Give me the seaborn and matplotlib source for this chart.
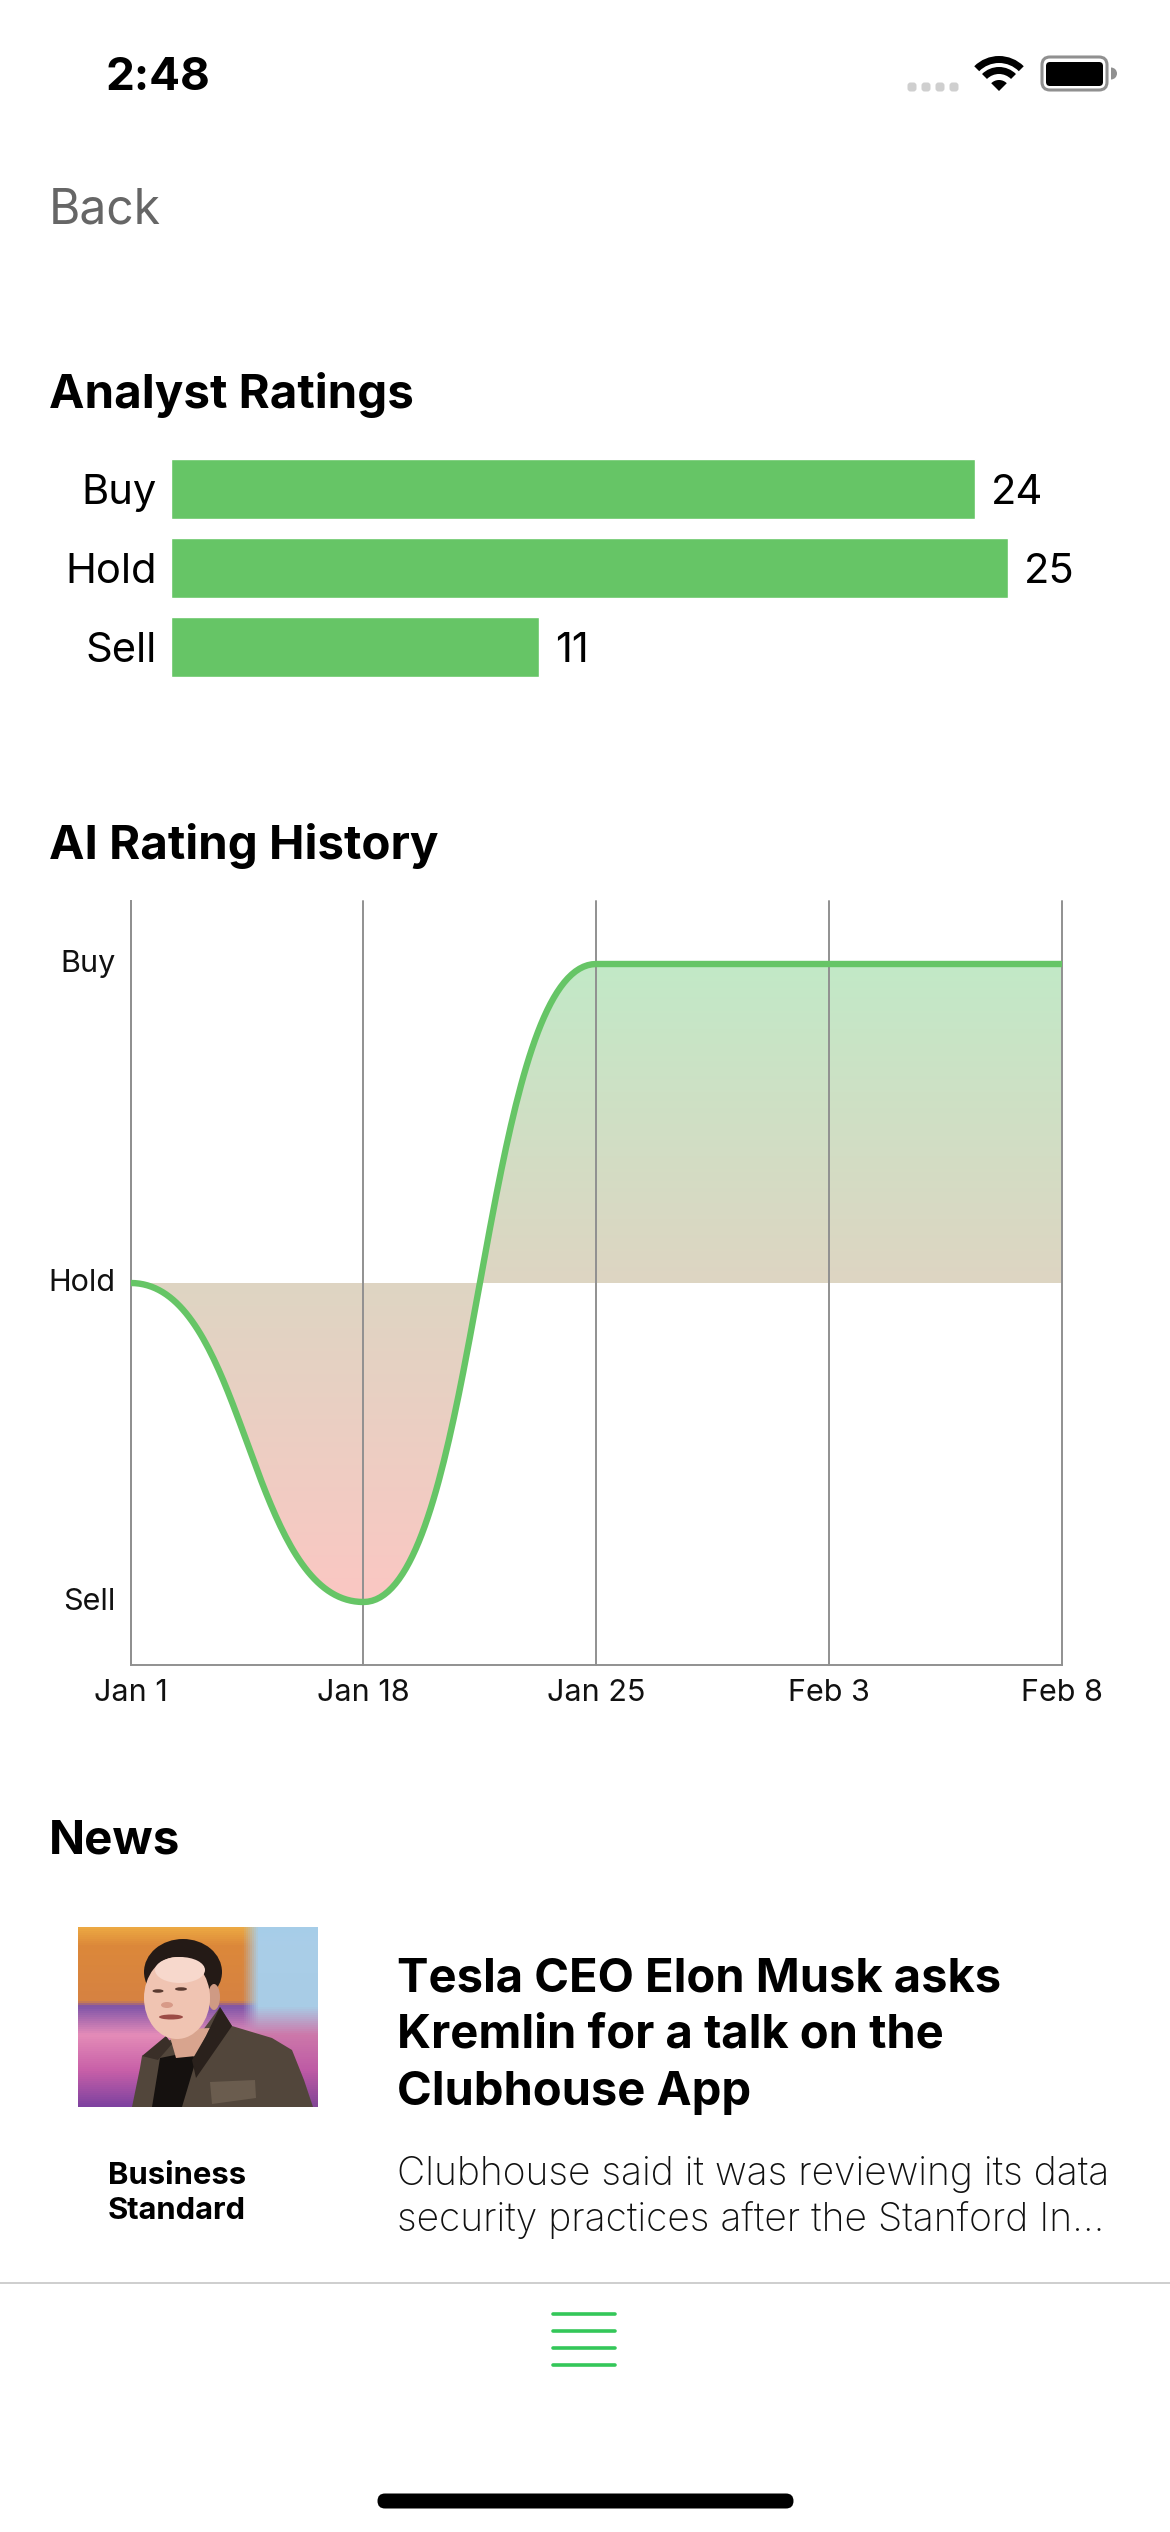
import matplotlib

matplotlib.use("Agg")

import matplotlib.pyplot as plt
import numpy as np
import seaborn as sns
from matplotlib.patches import Ellipse, FancyBboxPatch, Polygon, Wedge
from matplotlib.transforms import ScaledTranslation

W, H = 1170, 2532

RATING_LABELS = ["Buy", "Hold", "Sell"]
RATING_COUNTS = [24, 25, 11]

HISTORY_DATES = ["Jan 1", "Jan 18", "Jan 25", "Feb 3", "Feb 8"]
HISTORY_SCORES = [0, -1, 1, 1, 1]
SCORE_TICKS = [1, 0, -1]

HEADLINE = ["Tesla CEO Elon Musk asks", "Kremlin for a talk on the", "Clubhouse App"]
SUMMARY = ["Clubhouse said it was reviewing its data", "security practices after the Stanford In..."]
SOURCE = ["Business", "Standard"]

GREEN = "#66c566"
AXIS_GREY = "#909090"
FONT = "Inter"


def px_axes(fig, left, top, right, bottom):
    return fig.add_axes([left / W, 1 - bottom / H, (right - left) / W, (bottom - top) / H])


def smooth_curve(xs, ys, n=80):
    # same curve the app draws: bezier with flat tangents at each point
    cx, cy = [], []
    for x0, x1, y0, y1 in zip(xs[:-1], xs[1:], ys[:-1], ys[1:]):
        t = np.linspace(0, 1, n)
        mid = (x0 + x1) / 2
        cx.append((1 - t) ** 3 * x0 + 3 * (1 - t) ** 2 * t * mid + 3 * (1 - t) * t**2 * mid + t**3 * x1)
        cy.append((1 - t) ** 3 * y0 + 3 * (1 - t) ** 2 * t * y0 + 3 * (1 - t) * t**2 * y1 + t**3 * y1)
    return np.concatenate(cx), np.concatenate(cy)


def draw_ratings(fig):
    ax = px_axes(fig, 171, 449.5, 1008, 686.5)
    sns.barplot(x=RATING_COUNTS, y=RATING_LABELS, ax=ax, color=GREEN, saturation=1, width=0.747, orient="h")
    ax.set_xlim(0, 25)
    ax.set_ylim(2.5, -0.5)
    ax.set_xlabel("")
    ax.set_xticks([])
    ax.tick_params(axis="y", length=0, pad=10.5, labelsize=30, labelcolor="black")
    for lab in ax.bar_label(ax.containers[0], fontsize=30, padding=11.5, color="black"):
        lab.set_verticalalignment("center_baseline")
    sns.despine(ax=ax, left=True, bottom=True)
    ax.patch.set_alpha(0)


def draw_history(fig):
    ax = px_axes(fig, 130.6, 901, 1062, 1665)
    xs = list(range(len(HISTORY_SCORES)))
    cx, cy = smooth_curve(xs, HISTORY_SCORES)

    stops = np.array([[194, 233, 199], [222, 213, 194], [251, 199, 195]]) / 255
    pos = np.linspace(0, 1, 256)
    grad = np.stack([np.interp(pos, [0, 0.5, 1], stops[:, i]) for i in range(3)], axis=1)[:, None, :]
    img = ax.imshow(grad, extent=(0, 4, -1, 1), aspect="auto", origin="upper", zorder=1)
    # close the area back along the Hold level
    outline = np.column_stack([np.r_[cx, xs[-1], xs[0]], np.r_[cy, 0, 0]])
    img.set_clip_path(Polygon(outline, closed=True, transform=ax.transData))

    for x in xs:
        ax.axvline(x, color=AXIS_GREY, lw=1.4, zorder=2, clip_on=False)
    sns.lineplot(x=cx, y=cy, ax=ax, sort=False, estimator=None, color=GREEN, zorder=3)
    ax.lines[-1].set_linewidth(4.6)
    ax.lines[-1].set_solid_capstyle("butt")

    ax.set_xlim(0, 4)
    ax.set_ylim(-1.1975, 1.1975)
    ax.set_xticks(xs, HISTORY_DATES)
    ax.set_yticks(SCORE_TICKS, RATING_LABELS)
    ax.tick_params(length=0, labelsize=22, labelcolor="#111111")
    ax.tick_params(axis="x", pad=10)
    ax.tick_params(axis="y", pad=11)
    nudge = ScaledTranslation(0, 3 / 100, fig.dpi_scale_trans)
    for lab in ax.get_yticklabels():
        lab.set_transform(lab.get_transform() + nudge)
    sns.despine(ax=ax)
    for side in ["left", "bottom"]:
        ax.spines[side].set_color(AXIS_GREY)
        ax.spines[side].set_linewidth(1.4)
    ax.grid(False)
    ax.patch.set_alpha(0)


def draw_photo(fig):
    # rough stand-in for the news thumbnail, no image file available here
    ax = px_axes(fig, 78, 1927, 318, 2107)
    ax.set_xlim(78, 318)
    ax.set_ylim(2107, 1927)
    ax.axis("off")
    rows = np.array([[236, 168, 66], [220, 136, 58], [214, 130, 66], [128, 84, 168], [228, 140, 184], [200, 96, 168], [126, 66, 160]]) / 255
    blue = np.array([[166, 205, 232], [170, 206, 232], [168, 204, 230], [168, 204, 230], [205, 120, 170], [190, 90, 165], [130, 70, 150]]) / 255
    ys = np.array([0, 0.1, 0.41, 0.44, 0.6, 0.8, 1.0])
    pos = np.linspace(0, 1, 90)
    left = np.stack([np.interp(pos, ys, rows[:, i]) for i in range(3)], axis=1)
    right = np.stack([np.interp(pos, ys, blue[:, i]) for i in range(3)], axis=1)
    frac = np.clip((np.linspace(78, 318, 120) - 243) / 16, 0, 1)[None, :, None]
    ax.imshow(left[:, None, :] * (1 - frac) + right[:, None, :] * frac, extent=(78, 318, 2107, 1927), aspect="auto", origin="upper")
    # jacket, shirt, neck
    ax.add_patch(Polygon([[132, 2107], [140, 2068], [142, 2056], [170, 2040], [200, 2034], [220, 2007], [232, 2026], [272, 2038], [292, 2050], [304, 2080], [313, 2107]], color="#52463b", lw=0))
    ax.add_patch(Polygon([[152, 2107], [160, 2058], [190, 2052], [196, 2060], [182, 2107]], color="#15110f", lw=0))
    ax.add_patch(Polygon([[168, 2030], [210, 2028], [196, 2056], [176, 2058]], color="#d8a48e", lw=0))
    ax.add_patch(Polygon([[192, 2060], [206, 2036], [220, 2007], [232, 2026], [214, 2052], [196, 2078]], color="#2a211c", lw=0))
    ax.add_patch(Polygon([[142, 2056], [166, 2036], [172, 2044], [158, 2060]], color="#3a2f28", lw=0))
    ax.add_patch(Polygon([[210, 2082], [255, 2080], [256, 2098], [212, 2104]], color="#6a5c4e", lw=0))
    # hair, head, ear
    ax.add_patch(Ellipse((183, 1972), 78, 66, color="#241a16", lw=0))
    ax.add_patch(Ellipse((214, 1997), 12, 26, color="#cf9a84", lw=0))
    ax.add_patch(Ellipse((177, 1998), 66, 82, color="#f0c4b2", lw=0))
    ax.add_patch(Ellipse((180, 1970), 50, 26, color="#f7d8cc", lw=0))
    # eyes, nose shadow, mouth
    ax.add_patch(Ellipse((158, 1991), 11, 3.5, color="#5a3a30", lw=0))
    ax.add_patch(Ellipse((181, 1989), 12, 3.5, color="#5a3a30", lw=0))
    ax.add_patch(Ellipse((167, 2005), 12, 6, color="#d89a88", lw=0))
    ax.add_patch(Ellipse((171, 2017), 24, 5, color="#9c4c46", lw=0))


def draw_chrome(ui):
    # status bar
    for x in [912, 926, 940, 954]:
        ui.add_patch(FancyBboxPatch((x - 3, 84), 6, 6, boxstyle="round,pad=1.5,rounding_size=3", fc="#cfcfcf", ec="none"))
    ui.add_patch(Wedge((999, 91), 11, 225, 315, fc="black", ec="none"))
    ui.add_patch(Wedge((999, 91), 24, 225, 315, width=7, fc="black", ec="none"))
    ui.add_patch(Wedge((999, 91), 35, 225, 315, width=7, fc="black", ec="none"))
    ui.add_patch(FancyBboxPatch((1045, 60), 59, 27, boxstyle="round,pad=3,rounding_size=8", fc="none", ec=AXIS_GREY, lw=2.2))
    ui.add_patch(FancyBboxPatch((1048, 64), 53, 20, boxstyle="round,pad=2,rounding_size=4", fc="black", ec="none"))
    ui.add_patch(Wedge((1111, 73.5), 6, 270, 90, fc=AXIS_GREY, ec="none"))

    # tab bar
    ui.plot([0, W], [2283, 2283], color="#c6c6c6", lw=1.2)
    for y in [2314, 2331, 2348, 2365]:
        ui.plot([553, 615], [y, y], color="#34c759", lw=2.6, solid_capstyle="round")
    ui.add_patch(FancyBboxPatch((385, 2501), 401, 0, boxstyle="round,pad=7.5,rounding_size=7.5", fc="black", ec="none"))


def main():
    sns.set_theme(style="white")
    plt.rcParams["font.family"] = [FONT, "DejaVu Sans"]

    fig = plt.figure(figsize=(W / 100, H / 100), dpi=100, facecolor="white")
    ui = fig.add_axes([0, 0, 1, 1])
    ui.set_xlim(0, W)
    ui.set_ylim(H, 0)
    ui.axis("off")

    draw_chrome(ui)
    draw_ratings(fig)
    draw_history(fig)
    draw_photo(fig)

    ui.text(105, 90, "2:48", fontsize=33, fontweight="bold", color="black")
    ui.text(49, 224, "Back", fontsize=34.5, fontweight="normal", color="#666666")
    for y, title in [(408, "Analyst Ratings"), (859, "AI Rating History"), (1854, "News")]:
        ui.text(49, y, title, fontsize=34.2, fontweight="bold", color="black")
    for y, line in zip([1991, 2048, 2105], HEADLINE):
        ui.text(397, y, line, fontsize=33.9, fontweight="bold", color="black")
    for y, line in zip([2184, 2219], SOURCE):
        ui.text(108, y, line, fontsize=22.3, fontweight="bold", color="black")
    for y, line in zip([2185, 2231], SUMMARY):
        ui.text(397, y, line, fontsize=28.1, fontweight="light", color="#111111")

    fig.savefig("out.png", dpi=100)
    plt.close(fig)


if __name__ == "__main__":
    main()
